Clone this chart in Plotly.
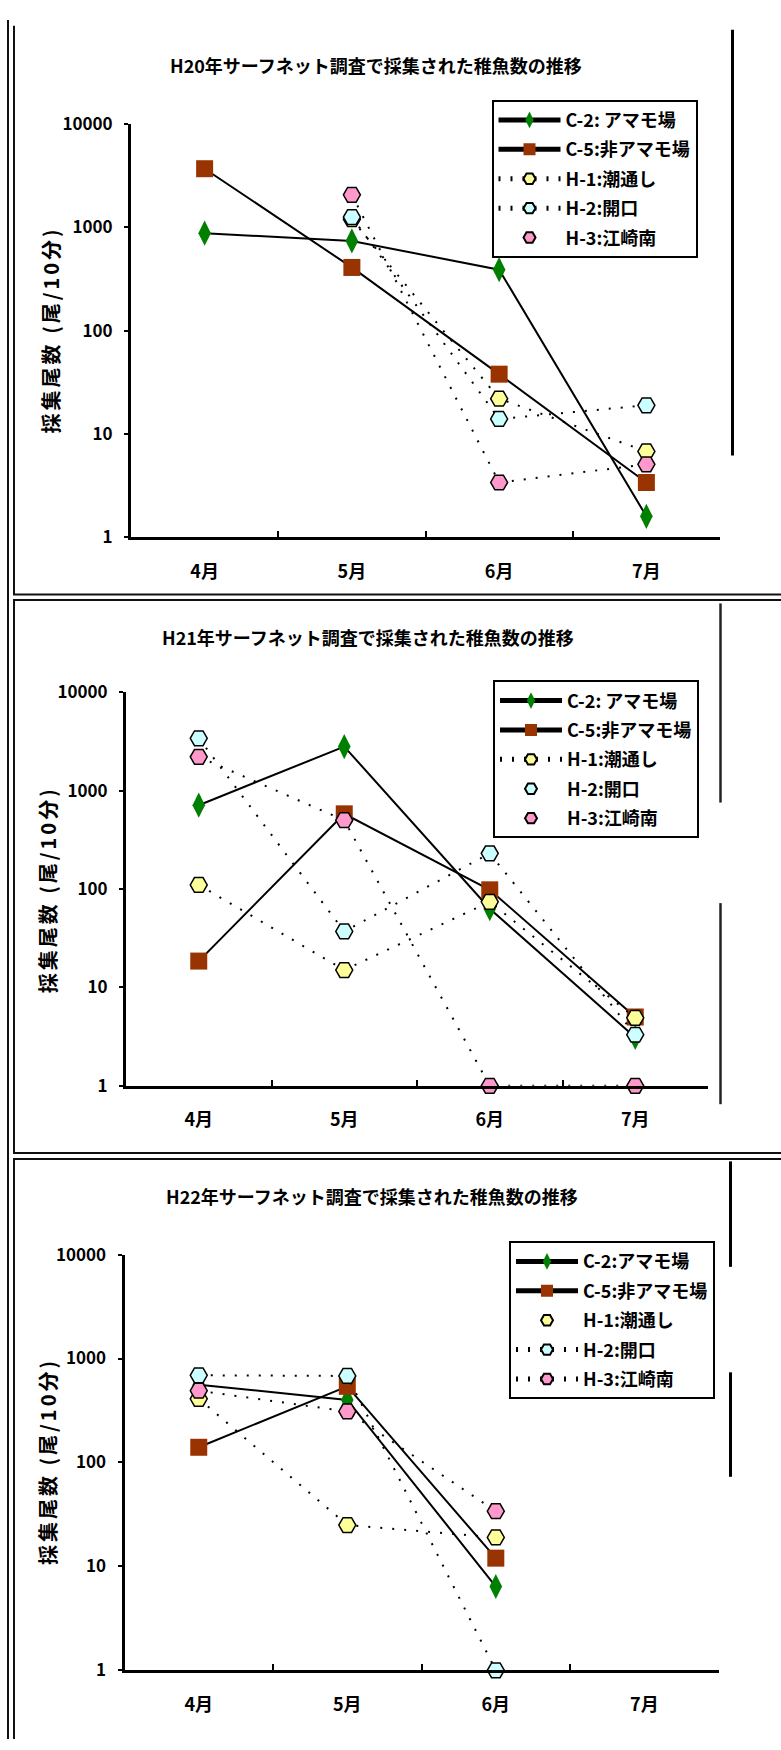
import plotly.graph_objects as go

W, H = 781, 1750
FONT = "Noto Sans CJK JP"

months = ["4月", "5月", "6月", "7月"]
y_tick_vals = [1, 10, 100, 1000, 10000]
y_tick_text = ["1", "10", "100", "1000", "10000"]
y_title = "採集尾数 (尾/10分)"

# H20 catches (fish per 10 min)
h20_c2 = [880, 740, 390, 1.6]
h20_c5 = [3700, 410, 38, 3.4]
h20_h1 = [None, 1200, 22, 6.8]
h20_h2 = [None, 1260, 14, 19]
h20_h3 = [None, 2070, 3.4, 5.1]

# H21 catches
h21_c2 = [710, 2800, 63, 3.1]
h21_c5 = [18.5, 580, 98, 5.0]
h21_h1 = [110, 15, 74, 4.9]
h21_h2 = [3400, 37, 230, 3.3]
h21_h3 = [2200, 500, 1, 1]

# H22 catches (no July survey)
h22_c2 = [560, 400, 6.4, None]
h22_c5 = [140, 540, 12, None]
h22_h1 = [410, 25, 19, None]
h22_h2 = [690, 680, 1, None]
h22_h3 = [490, 310, 34, None]

names_h20 = ["C-2: アマモ場", "C-5:非アマモ場", "H-1:潮通し", "H-2:開口", "H-3:江崎南"]
names_h21 = ["C-2: アマモ場", "C-5:非アマモ場", "H-1:潮通し", "H-2:開口", "H-3:江崎南"]
names_h22 = ["C-2:アマモ場", "C-5:非アマモ場", "H-1:潮通し", "H-2:開口", "H-3:江崎南"]

titles = [
    "H20年サーフネット調査で採集された稚魚数の推移",
    "H21年サーフネット調査で採集された稚魚数の推移",
    "H22年サーフネット調査で採集された稚魚数の推移",
]

# marker / line style per station
STYLES = [
    dict(symbol="diamond-tall", size=18, color="#008000", border=0, dash="solid"),
    dict(symbol="square", size=17, color="#993300", border=0, dash="solid"),
    dict(symbol="hexagon2", size=17, color="#FFFF99", border=1.5, dash="2px,10px"),
    dict(symbol="hexagon2", size=17, color="#CCFFFF", border=1.5, dash="2px,10px"),
    dict(symbol="hexagon2", size=17, color="#FF99CC", border=1.5, dash="2px,10px"),
]

# pixel geometry of each panel: plot area (x0, x1, ytop, ybottom), legend corner,
# title centre, axis-title centre
PANELS = [
    dict(series=[h20_c2, h20_c5, h20_h1, h20_h2, h20_h3], names=names_h20,
         legend_lines=[True, True, True, True, False],
         area=(131, 720, 111.7, 531), legend=(491.5, 87),
         title=(375.5, 52), ytitle=(50, 321)),
    dict(series=[h21_c2, h21_c5, h21_h1, h21_h2, h21_h3], names=names_h21,
         legend_lines=[True, True, True, False, False],
         area=(126, 708, 688, 1087.3), legend=(493, 676),
         title=(368, 632), ytitle=(47, 889)),
    dict(series=[h22_c2, h22_c5, h22_h1, h22_h2, h22_h3], names=names_h22,
         legend_lines=[True, True, False, True, True],
         area=(124.5, 718.6, 1258.6, 1680.3), legend=(509, 1245),
         title=(372, 1199), ytitle=(47, 1469)),
]


def xp(v):
    return v / W


def yp(v):
    return 1 - v / H


def bold_font(size):
    return dict(family=FONT, size=size, color="black", weight="bold")


fig = go.Figure()
annotations = []
layout_axes = {}

for i, p in enumerate(PANELS, start=1):
    sfx = "" if i == 1 else str(i)
    legend_name = "legend" if i == 1 else f"legend{i}"
    for vals, name, st in zip(p["series"], p["names"], STYLES):
        fig.add_trace(go.Scatter(
            x=months, y=vals, mode="lines+markers", name=name,
            xaxis=f"x{sfx}", yaxis=f"y{sfx}", showlegend=False,
            connectgaps=False, cliponaxis=False,
            line=dict(color="black", width=2, dash=st["dash"]),
            marker=dict(symbol=st["symbol"], size=st["size"], color=st["color"],
                        line=dict(color="black", width=st["border"])),
        ))
    # legend entries
    for k, (name, st, has_line) in enumerate(zip(p["names"], STYLES, p["legend_lines"])):
        fig.add_trace(go.Scatter(
            x=[None], y=[None], name=name, legend=legend_name,
            legendgroup=f"p{i}s{k}",
            mode="lines+markers" if has_line else "markers",
            xaxis=f"x{sfx}", yaxis=f"y{sfx}",
            line=dict(color="black", width=2.5, dash=st["dash"]),
            marker=dict(symbol=st["symbol"], size=12, color=st["color"],
                        line=dict(color="black", width=1.5 if st["border"] else 0)),
        ))

    x0, x1, ytop, ybot = p["area"]
    layout_axes[f"xaxis{sfx}"] = dict(
        domain=[xp(x0), xp(x1)], anchor=f"y{sfx}", type="category",
        categoryorder="array", categoryarray=months, range=[-0.5, 3.5],
        showline=True, linecolor="black", linewidth=3, mirror=False,
        ticks="inside", tickson="boundaries", ticklen=6, tickwidth=2, tickcolor="black",
        showgrid=False, zeroline=False, ticklabelstandoff=16,
        tickfont=bold_font(18),
    )
    layout_axes[f"yaxis{sfx}"] = dict(
        domain=[yp(ybot), yp(ytop)], anchor=f"x{sfx}", type="log", range=[0, 4],
        tickvals=y_tick_vals, ticktext=y_tick_text,
        showline=True, linecolor="black", linewidth=3,
        ticks="outside", ticklen=4, tickwidth=2, tickcolor="black",
        showgrid=False, zeroline=False, ticklabelstandoff=8,
        tickfont=bold_font(17),
    )
    lx, ly = p["legend"]
    layout_axes[legend_name] = dict(
        x=xp(lx), y=yp(ly), xanchor="left", yanchor="top",
        bgcolor="white", bordercolor="black", borderwidth=2,
        font=bold_font(18),
        itemsizing="constant", itemwidth=62, tracegroupgap=3,
    )
    tx, ty = p["title"]
    annotations.append(dict(
        text=titles[i - 1], x=xp(tx), y=yp(ty), xref="paper", yref="paper",
        xanchor="center", yanchor="middle", showarrow=False,
        font=bold_font(18),
    ))
    ax, ay = p["ytitle"]
    annotations.append(dict(
        text=f"<span style='letter-spacing:3px'>{y_title}</span>",
        x=xp(ax), y=yp(ay), xref="paper", yref="paper",
        xanchor="center", yanchor="middle", showarrow=False, textangle=-90,
        font=bold_font(20),
    ))

# page frame: table cell borders and stray right-hand rules
def hline(y, xa, xb, w=2, c="#111"):
    return dict(type="line", xref="paper", yref="paper", x0=xp(xa), x1=xp(xb),
                y0=yp(y), y1=yp(y), line=dict(color=c, width=w))


def vline(x, ya, yb, w=2, c="#111"):
    return dict(type="line", xref="paper", yref="paper", x0=xp(x), x1=xp(x),
                y0=yp(ya), y1=yp(yb), line=dict(color=c, width=w))


shapes = [
    vline(8, 6, 1750),
    vline(14, 12, 589), vline(14, 594, 1156), vline(14, 1161, 1750),
    hline(589, 13, 781), hline(594.5, 13, 781),
    hline(1155.5, 13, 781), hline(1161.5, 13, 781),
    vline(732.5, 16, 448, w=3, c="black"),
    vline(720.5, 598, 800, w=2.5, c="#222"), vline(720.5, 902, 1106, w=2.5, c="#222"),
    vline(730.5, 1164, 1271, w=3, c="black"), vline(730.5, 1378, 1484, w=3, c="black"),
]

fig.update_layout(
    width=W, height=H, margin=dict(l=0, r=0, t=0, b=0),
    paper_bgcolor="white", plot_bgcolor="white",
    font=dict(family=FONT, color="black"),
    annotations=annotations, shapes=shapes,
    **layout_axes,
)

fig.write_html("out.html")
